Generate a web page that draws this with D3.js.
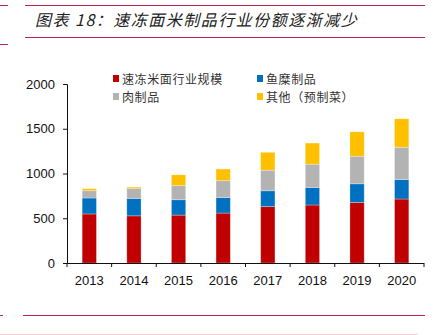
<!DOCTYPE html>
<html>
<head>
<meta charset="utf-8">
<script src="https://cdn.jsdelivr.net/npm/d3@7"></script>
<style>
  html, body { margin: 0; padding: 0; background: #fff; }
  svg { display: block; }
</style>
</head>
<body>
<div id="chart"></div>
<script>
// 2013-2020
var years = ["2013", "2014", "2015", "2016", "2017", "2018", "2019", "2020"];
var mianmi = [548, 527, 535, 558, 630, 648, 677, 715];   // 速冻米面行业规模
var yumi = [178, 195, 172, 173, 177, 196, 208, 218];     // 鱼糜制品
var rou = [82, 110, 158, 189, 230, 260, 308, 360];        // 肉制品
var qita = [22, 16, 120, 130, 200, 236, 273, 318];        // 其他（预制菜）
var seriesNames = ["速冻米面行业规模", "鱼糜制品", "肉制品", "其他（预制菜）"];
var colors = ["#C00000", "#0070C0", "#B3B3B3", "#FFC000"];
var yTicks = [0, 500, 1000, 1500, 2000];

var W = 435, H = 335;
var svg = d3.select("#chart").append("svg")
    .attr("width", W)
    .attr("height", H);

var lineColor = "#b8284a";

// header / footer rules
svg.append("line").attr("x1", 0).attr("x2", 8).attr("y1", 5.5).attr("y2", 5.5)
    .attr("stroke", lineColor).attr("stroke-width", 1);
svg.append("line").attr("x1", 25).attr("x2", 425).attr("y1", 5.5).attr("y2", 5.5)
    .attr("stroke", lineColor).attr("stroke-width", 1);
svg.append("line").attr("x1", 25).attr("x2", 425).attr("y1", 37.5).attr("y2", 37.5)
    .attr("stroke", lineColor).attr("stroke-width", 1);
svg.append("line").attr("x1", 0).attr("x2", 8).attr("y1", 44.5).attr("y2", 44.5)
    .attr("stroke", lineColor).attr("stroke-width", 1);
svg.append("line").attr("x1", 23).attr("x2", 425).attr("y1", 315.5).attr("y2", 315.5)
    .attr("stroke", lineColor).attr("stroke-width", 1);
svg.append("line").attr("x1", 0).attr("x2", 3).attr("y1", 315.5).attr("y2", 315.5)
    .attr("stroke", lineColor).attr("stroke-width", 1);
svg.append("line").attr("x1", 0).attr("x2", 418).attr("y1", 334.5).attr("y2", 334.5)
    .attr("stroke", "#f6d0d8").attr("stroke-width", 1);

svg.append("text")
    .attr("x", 35).attr("y", 26)
    .attr("font-family", "'Noto Sans CJK SC', sans-serif")
    .attr("font-size", 16)
    .attr("font-style", "italic")
    .attr("letter-spacing", 1.5)
    .attr("fill", "#222")
    .text("图表 18：速冻面米制品行业份额逐渐减少");

var x = d3.scaleBand().domain(years).range([67, 424]).paddingInner(0.68).paddingOuter(0.34);
var y = d3.scaleLinear().domain([0, 2000]).range([263, 84]);

var table = years.map(function(yr, i) {
    return { year: yr, a: mianmi[i], b: yumi[i], c: rou[i], d: qita[i] };
});
var stack = d3.stack().keys(["a", "b", "c", "d"])(table);

svg.append("g")
    .selectAll("g")
    .data(stack)
    .enter().append("g")
    .attr("fill", function(d, i) { return colors[i]; })
    .selectAll("rect")
    .data(function(d) { return d; })
    .enter().append("rect")
    .attr("x", function(d) { return x(d.data.year); })
    .attr("width", x.bandwidth())
    .attr("y", function(d) { return y(d[1]); })
    .attr("height", function(d) { return y(d[0]) - y(d[1]); })
    .attr("stroke", "#fff")
    .attr("stroke-opacity", 0.35)
    .attr("stroke-width", 0.8);

// y axis
var yAxis = svg.append("g")
    .attr("transform", "translate(67,0)")
    .call(d3.axisLeft(y).tickValues(yTicks).tickSize(4).tickPadding(8).tickFormat(d3.format("d")));
yAxis.selectAll("text")
    .attr("font-family", "'Liberation Sans', Arial, sans-serif")
    .attr("font-size", 13)
    .attr("fill", "#111");
yAxis.select(".domain").attr("stroke", "#111");
yAxis.selectAll(".tick line").attr("stroke", "#111");

// x axis: ticks between the bands
var bandEdges = d3.range(years.length + 1).map(function(i) { return 67 + i * (424 - 67) / years.length; });
var xg = svg.append("g").attr("transform", "translate(0,263)");
xg.append("line").attr("x1", 67).attr("x2", 424).attr("y1", 0.5).attr("y2", 0.5)
    .attr("stroke", "#111");
xg.selectAll("line.tk")
    .data(bandEdges)
    .enter().append("line")
    .attr("class", "tk")
    .attr("x1", function(d) { return d; })
    .attr("x2", function(d) { return d; })
    .attr("y1", 0).attr("y2", 4)
    .attr("stroke", "#111");
xg.selectAll("text")
    .data(years)
    .enter().append("text")
    .attr("x", function(d) { return x(d) + x.bandwidth() / 2; })
    .attr("y", 22)
    .attr("text-anchor", "middle")
    .attr("font-family", "'Liberation Sans', Arial, sans-serif")
    .attr("font-size", 13)
    .attr("fill", "#111")
    .text(function(d) { return d; });

// legend
var legendPos = [[113, 79], [257, 79], [113, 97], [257, 97]];
var legendOrder = [0, 1, 2, 3];
var lg = svg.append("g")
    .selectAll("g")
    .data(legendOrder)
    .enter().append("g")
    .attr("transform", function(d) { return "translate(" + legendPos[d][0] + "," + legendPos[d][1] + ")"; });
lg.append("rect")
    .attr("x", 0).attr("y", -4)
    .attr("width", 6).attr("height", 7)
    .attr("fill", function(d) { return colors[d]; });
lg.append("text")
    .attr("x", 9).attr("y", 4.5)
    .attr("font-family", "'Noto Sans CJK SC', sans-serif")
    .attr("font-size", 12)
    .attr("letter-spacing", 0.6)
    .attr("fill", "#333")
    .text(function(d) { return seriesNames[d]; });
</script>
</body>
</html>
